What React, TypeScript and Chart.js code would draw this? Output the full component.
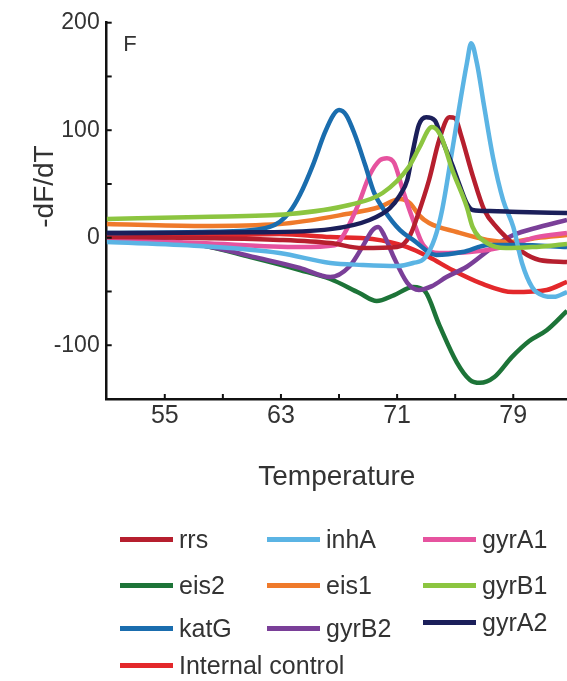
import React, { useEffect, useRef } from 'react';
import { Chart, registerables } from 'chart.js';

Chart.register(...registerables);

// ---- data (temperature, -dF/dT) ----
const rrsT = [51, 57.4, 62.9, 66.4, 68.6, 71, 71.9, 72.5, 73.2, 73.9, 74.6, 75.0, 75.4, 76.2, 77, 77.9, 78.7, 79.6, 80.8, 82.7];
const rrsV = [0.6, -0.3, -2, -5, -9.6, -8.7, 2.5, 24, 53.7, 91, 112, 111, 95.5, 58, 25.8, 9, -2, -13, -20.7, -22.6];

const inhAT = [51, 57.4, 62.9, 66.4, 68.6, 71, 72.1, 72.9, 73.6, 74.1, 74.8, 75.4, 75.8, 76.1, 76.5, 77, 77.6, 78.3, 79, 79.6, 80.3, 81.1, 81.8, 82.7];
const inhAV = [-4, -7.7, -14.2, -23.5, -25.3, -26.3, -23.5, -19, -0.3, 25.8, 81.6, 131, 162, 181, 162, 121.6, 75, 35, 10, -23.5, -46, -54, -55, -50.5];

const gyrA1T = [51, 57.4, 64.3, 66.7, 67.5, 68.3, 69.1, 69.8, 70.3, 70.8, 71.4, 72.1, 72.8, 73.9, 76, 78.3, 80.6, 82.7];
const gyrA1V = [-2, -5, -8.7, -7, 7, 30, 58, 72, 74, 69.5, 44, 16.5, -6.8, -14.2, -13.3, -8.7, 0.6, 4.4];

const eis2T = [51, 57.4, 60.9, 64.3, 66.4, 68.4, 69.6, 70.8, 72.1, 72.9, 73.9, 75.1, 76, 76.7, 77.7, 78.9, 80.1, 81.3, 82.7];
const eis2V = [-1.2, -6.8, -18, -30, -38.4, -51.4, -58.9, -53.3, -45.9, -49.5, -81, -115.6, -132, -135, -129.5, -111, -96, -86, -68];

const eis1T = [51, 57.4, 62.9, 67.5, 69.8, 71.2, 71.9, 72.5, 73.2, 75.1, 77.2, 78.7, 80.6, 82.7];
const eis1V = [12.7, 10.9, 12.7, 22, 28.6, 36, 32, 21, 13.7, 5.3, -2, -4, -0.3, 2.5];

const gyrB1T = [51, 57.4, 63.6, 67.7, 70.0, 71.8, 72.5, 73.4, 74.0, 74.8, 75.8, 76.2, 77.2, 78.5, 80.3, 82.7];
const gyrB1V = [17.4, 19.3, 22, 30.4, 41.6, 65.8, 83, 103, 95, 63, 28.6, 10, -5, -9.6, -8.7, -5.9];

const katGT = [51, 57.4, 61.5, 62.9, 63.6, 64.3, 65.2, 66, 66.6, 67, 67.5, 68.1, 68.8, 69.4, 70.1, 71.2, 72.1, 73.7, 75.5, 77.3, 79.4, 82.7];
const katGV = [4.4, 5.3, 8, 14.6, 24, 39.7, 67.6, 97, 114, 118.8, 114, 95.5, 67.6, 42.5, 25.8, 7, -2, -16, -13.3, -6.8, -6.8, -8.7];

const gyrB2T = [51, 57.4, 61.5, 64.3, 66.4, 67.7, 68.6, 69.3, 69.7, 70.1, 70.7, 71.7, 72.5, 73.4, 74.4, 75.8, 77.6, 79, 80.8, 82.7];
const gyrB2V = [0, -6.8, -19, -28, -36.6, -27, -8.7, 7, 10, 2.5, -16, -42, -48.6, -45, -36.6, -27, -8.7, 2.5, 10, 16.5];

const gyrA2T = [51, 61.0, 66.4, 69.1, 70.5, 71.2, 71.7, 72.1, 72.5, 73.0, 73.6, 74.1, 74.8, 75.3, 75.8, 76.2, 77.4, 79.4, 82.7];
const gyrA2V = [4.4, 5, 8, 16.5, 27.6, 39.7, 53.7, 81.6, 105, 112, 109, 91, 67.6, 49, 32, 25.8, 24.8, 23.9, 23];

const icT = [51, 57.4, 62.9, 66.4, 69.3, 71.7, 73.2, 74.8, 76.7, 79, 81.3, 82.7];
const icV = [1.6, 1.6, 3.4, 0.6, -1.2, -8.7, -18, -30, -42, -50.5, -48.6, -41];

// ---- axes ----
const xTicks = [55, 59, 63, 67, 71, 75, 79];
const xTickLabels = ['55', '', '63', '', '71', '', '79'];
const yTicks = [-150, -100, -50, 0, 50, 100, 150, 200];
const yTickLabels = ['', '-100', '', '0', '', '100', '', '200'];

// ---- series ----
const legendOrder = ['rrs', 'inhA', 'gyrA1', 'eis2', 'eis1', 'gyrB1', 'katG', 'gyrB2', 'gyrA2', 'Internal control'];
const seriesData: Record<string, [number[], number[]]> = {
  rrs: [rrsT, rrsV],
  inhA: [inhAT, inhAV],
  gyrA1: [gyrA1T, gyrA1V],
  eis2: [eis2T, eis2V],
  eis1: [eis1T, eis1V],
  gyrB1: [gyrB1T, gyrB1V],
  katG: [katGT, katGV],
  gyrB2: [gyrB2T, gyrB2V],
  gyrA2: [gyrA2T, gyrA2V],
  'Internal control': [icT, icV],
};
const colors: Record<string, string> = {
  rrs: '#b61f2e',
  inhA: '#5bb4e4',
  gyrA1: '#e6539f',
  eis2: '#1d7438',
  eis1: '#ef7a2b',
  gyrB1: '#8cc540',
  katG: '#1a6dae',
  gyrB2: '#7a3f98',
  gyrA2: '#1b1f5a',
  'Internal control': '#e3282b',
};
// first drawn on top
const drawOrder = ['gyrB1', 'gyrA2', 'inhA', 'katG', 'rrs', 'gyrA1', 'eis1', 'gyrB2', 'Internal control', 'eis2'];

const FONT = '"Liberation Sans", Arial, Helvetica, sans-serif';
const TEXT = '#333333';

const overlayPlugin = {
  id: 'overlay',
  afterDraw(chart: any) {
    const { ctx, chartArea, scales } = chart;
    ctx.save();
    ctx.strokeStyle = '#111';
    ctx.lineWidth = 2;
    xTicks.forEach((v) => {
      const px = scales.x.getPixelForValue(v);
      ctx.beginPath();
      ctx.moveTo(px, chartArea.bottom);
      ctx.lineTo(px, chartArea.bottom - 5);
      ctx.stroke();
    });
    yTicks.forEach((v) => {
      const py = scales.y.getPixelForValue(v);
      ctx.beginPath();
      ctx.moveTo(chartArea.left, py);
      ctx.lineTo(chartArea.left + 5, py);
      ctx.stroke();
    });
    ctx.fillStyle = TEXT;
    ctx.textAlign = 'center';
    ctx.textBaseline = 'middle';
    ctx.font = `22px ${FONT}`;
    ctx.fillText('F', 130, 45);
    ctx.translate(45, 186.5);
    ctx.rotate(-Math.PI / 2);
    ctx.font = `28px ${FONT}`;
    ctx.fillText('-dF/dT', 0, 0);
    ctx.restore();
  },
};

const legendCols = [120, 267, 423];
const legendRows = [539, 585, 628, 665];

export default function App() {
  const ref = useRef<HTMLCanvasElement | null>(null);
  useEffect(() => {
    if (!ref.current) return;
    const datasets = drawOrder.map((name) => {
      const [t, v] = seriesData[name];
      return {
        label: name,
        data: t.map((x, i) => ({ x, y: v[i] })),
        borderColor: colors[name],
        backgroundColor: colors[name],
        borderWidth: 4.5,
        pointRadius: 0,
        fill: false,
        tension: 0.4,
        cubicInterpolationMode: 'monotone' as const,
      };
    });
    const chart = new Chart(ref.current, {
      type: 'line',
      data: { datasets },
      plugins: [overlayPlugin],
      options: {
        responsive: false,
        animation: false,
        layout: { padding: { left: 0, right: 0, top: 22.7, bottom: 182 } },
        plugins: { legend: { display: false }, tooltip: { enabled: false } },
        scales: {
          x: {
            type: 'linear',
            min: 51,
            max: 82.7,
            afterBuildTicks: (s: any) => {
              s.ticks = xTicks.map((value) => ({ value }));
            },
            afterFit: (s: any) => {
              s.height = 100;
            },
            grid: { display: true, drawOnChartArea: false, drawTicks: false },
            border: { display: true, color: '#111', width: 2.5 },
            ticks: {
              padding: 2,
              color: TEXT,
              font: { family: FONT, size: 25 },
              autoSkip: false,
              maxRotation: 0,
              callback: (value: any) => {
                const i = xTicks.indexOf(Number(value));
                return i >= 0 ? xTickLabels[i] : '';
              },
            },
            title: {
              display: true,
              text: 'Temperature',
              color: TEXT,
              font: { family: FONT, size: 28 },
              padding: { top: 0, bottom: 5 },
            },
          },
          y: {
            type: 'linear',
            min: -150,
            max: 200,
            afterBuildTicks: (s: any) => {
              s.ticks = yTicks.map((value) => ({ value }));
            },
            afterFit: (s: any) => {
              s.width = 106.7;
            },
            grid: { display: true, drawOnChartArea: false, drawTicks: false },
            border: { display: true, color: '#111', width: 2.5 },
            ticks: {
              padding: 7,
              color: TEXT,
              font: { family: FONT, size: 23 },
              autoSkip: false,
              callback: (value: any) => {
                const i = yTicks.indexOf(Number(value));
                return i >= 0 ? yTickLabels[i] : '';
              },
            },
          },
        },
      },
    });
    return () => chart.destroy();
  }, []);

  return (
    <div style={{ position: 'fixed', left: 0, top: 0, width: 567, height: 681, background: '#fff', overflow: 'hidden' }}>
      <canvas ref={ref} width={567} height={681} style={{ position: 'absolute', left: 0, top: 0, width: 567, height: 681 }} />
      {legendOrder.map((name, i) => {
        const col = i < 9 ? i % 3 : 0;
        const row = Math.floor(i / 3);
        let cy = legendRows[row];
        if (name === 'gyrA2') cy = 622;
        return (
          <div
            key={name}
            style={{
              position: 'absolute',
              left: legendCols[col],
              top: cy - 14,
              height: 28,
              display: 'flex',
              alignItems: 'center',
              whiteSpace: 'nowrap',
              fontFamily: FONT,
              fontSize: 25,
              lineHeight: '28px',
              color: TEXT,
            }}
          >
            <span style={{ display: 'inline-block', width: 53, height: 5, background: colors[name], marginRight: 6 }} />
            <span>{name}</span>
          </div>
        );
      })}
    </div>
  );
}
